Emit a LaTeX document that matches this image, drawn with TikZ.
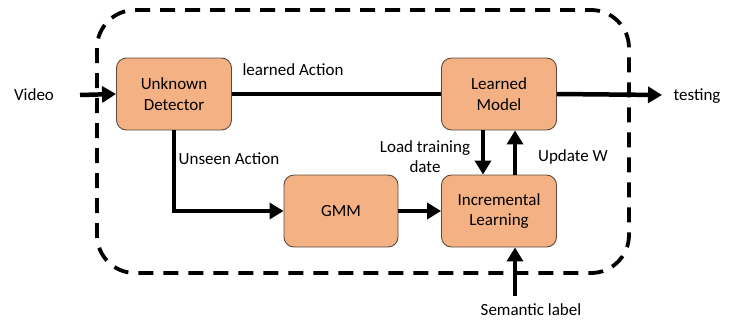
\documentclass[tikz,border=0pt]{standalone}
\usepackage{fontspec}
\setmainfont{Carlito}
\usetikzlibrary{arrows.meta}
\definecolor{boxfill}{HTML}{F4B183}
\definecolor{boxline}{HTML}{5A4A3E}
\begin{document}
\begin{tikzpicture}[x=1pt,y=-1pt,
  blockbox/.style={draw=boxline, line width=0.9pt, fill=boxfill, rounded corners=10pt,
    minimum width=115pt, minimum height=72pt, align=center, font=\fontsize{17}{20.5}\selectfont, inner sep=0pt},
  flow/.style={line width=4.5pt, -{Triangle[length=14pt,width=16pt]}},
  plainline/.style={line width=4.5pt},
  lbl/.style={font=\fontsize{17}{20}\selectfont, inner sep=0pt, align=center}]
\useasboundingbox (0,0) rectangle (739,322);
% enclosing dashed frame
\draw[line width=3.8pt, dash pattern=on 15pt off 10pt, rounded corners=38pt] (97,10) rectangle (629,273);
% processing blocks
\node[blockbox] (ud) at (174,94) {Unknown\\Detector};
\node[blockbox] (lm) at (499,94) {Learned\\Model};
\node[blockbox, minimum width=114pt] (gmm) at (341,211) {GMM};
\node[blockbox] (il) at (499,211) {Incremental\\Learning};
% free ends and labels
\node[lbl] (video) at (34,95) {Video};
\node[lbl] (test) at (697,96) {testing};
\node[lbl] (sem) at (531,310) {Semantic label};
\coordinate (vin) at (80,95);
\coordinate (tout) at (662,95);
\coordinate (sin) at (515,296);
\node[lbl] (la) at (293,70) {learned Action};
\node[lbl] (ua) at (229,159) {Unseen Action};
\node[lbl] (ltd) at (425,157) {Load training\\date};
\node[lbl] (uw) at (573,157) {Update W};
% connectors
\draw[flow] (vin) -- (ud.west);
\draw[plainline] (ud.east) -- (lm.west);
\draw[flow] (lm.east) -- (tout);
\draw[flow] (ud.south) |- (gmm.west);
\draw[flow] (gmm.east) -- (il.west);
\draw[flow] (lm.south -| 483,0) -- (il.north -| 483,0);
\draw[flow] (il.north -| 515,0) -- (lm.south -| 515,0);
\draw[flow] (sin) -- (il.south -| sin);
\end{tikzpicture}
\end{document}
